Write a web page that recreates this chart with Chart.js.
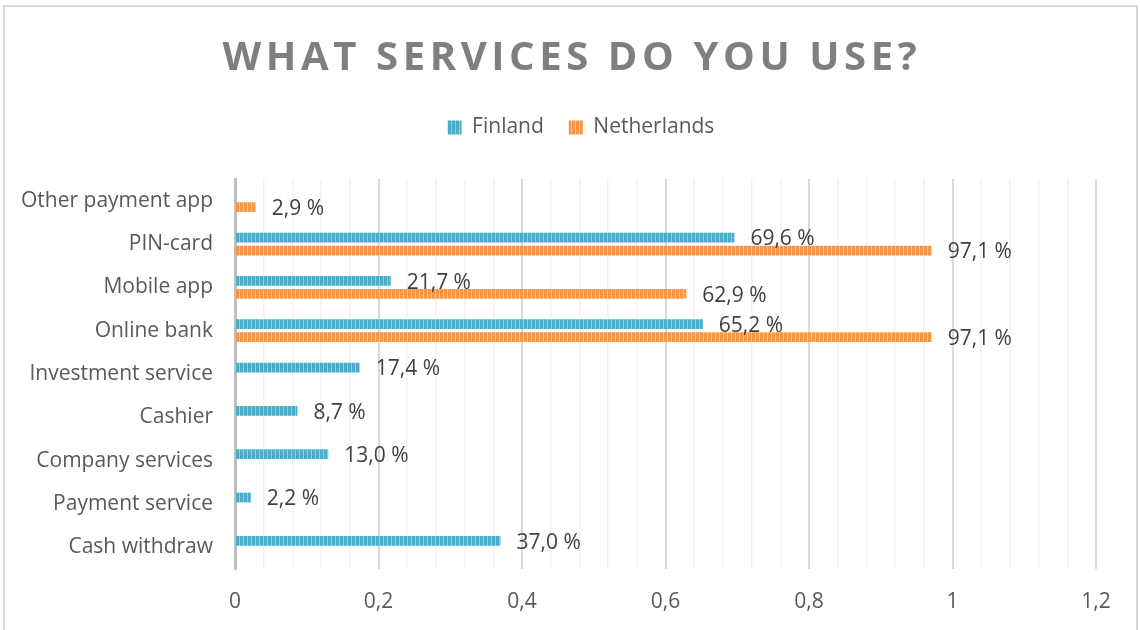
<!DOCTYPE html>
<html>
<head>
<meta charset="utf-8">
<script src="https://cdn.jsdelivr.net/npm/chart.js@4/dist/chart.umd.min.js"></script>
<style>
  html, body { margin: 0; padding: 0; background: #fff; }
  #wrap { position: relative; width: 1140px; height: 630px; overflow: hidden; }
  #frame { position: absolute; left: 3px; top: 5px; width: 1135px; height: 640px;
           border: 2px solid #d9d9d9; box-sizing: border-box; pointer-events: none; }
</style>
</head>
<body>
<div id="wrap">
  <canvas id="servicesChart" width="1140" height="630"></canvas>
  <div id="frame"></div>
</div>
<script>
const categories = [
  'Other payment app', 'PIN-card', 'Mobile app', 'Online bank',
  'Investment service', 'Cashier', 'Company services', 'Payment service', 'Cash withdraw'
];
const finland = [null, 0.696, 0.217, 0.652, 0.174, 0.087, 0.130, 0.022, 0.370];
const netherlands = [0.029, 0.971, 0.629, 0.971, null, null, null, null, null];
const xTickValues = [0, 0.2, 0.4, 0.6, 0.8, 1, 1.2];

const FONT = "'Open Sans', sans-serif";

// vertical stripe fill like the Office "dark vertical" pattern
function stripes(dark, light) {
  const c = document.createElement('canvas');
  c.width = 4; c.height = 4;
  const g = c.getContext('2d');
  g.fillStyle = dark;
  g.fillRect(0, 0, 4, 4);
  g.fillStyle = light;
  g.fillRect(3, 0, 1, 4);
  return g.createPattern(c, 'repeat');
}

const blueFill = stripes('#4aacc6', '#93cddd');
const orangeFill = stripes('#f79646', '#fbc08f');

const fmtPct = v => (v * 100).toFixed(1).replace('.', ',') + ' %';
const fmtTick = v => String(Math.round(v * 10) / 10).replace('.', ',');
const isMajor = v => Math.abs(v * 5 - Math.round(v * 5)) < 1e-6;

// value labels to the right of every bar
const barLabels = {
  id: 'barLabels',
  afterDatasetsDraw(chart) {
    const ctx = chart.ctx;
    ctx.save();
    ctx.font = '21px ' + FONT;
    ctx.fillStyle = '#404040';
    ctx.textAlign = 'left';
    ctx.textBaseline = 'middle';
    chart.data.datasets.forEach((ds, i) => {
      chart.getDatasetMeta(i).data.forEach((bar, j) => {
        const v = ds.data[j];
        if (v === null || v === undefined) return;
        ctx.fillText(fmtPct(v), bar.x + 16, bar.y + 2);
      });
    });
    ctx.restore();
  }
};

// spaced-out heading
const heading = {
  id: 'heading',
  afterDraw(chart) {
    const ctx = chart.ctx;
    ctx.save();
    ctx.font = 'bold 40px ' + FONT;
    ctx.letterSpacing = '4.6px';
    ctx.fillStyle = '#7f7f7f';
    ctx.textAlign = 'center';
    ctx.textBaseline = 'middle';
    ctx.fillText('WHAT SERVICES DO YOU USE?', 572, 59);
    ctx.restore();
  }
};

// extra room under the legend, and centre it over the plot
const legendTweak = {
  id: 'legendTweak',
  beforeInit(chart) {
    const fit = chart.legend.fit;
    chart.legend.fit = function () {
      fit.call(this);
      this.height += 31;
    };
  },
  afterLayout(chart) {
    chart.legend.left += 33;
    chart.legend.right += 33;
  }
};

new Chart(document.getElementById('servicesChart'), {
  type: 'bar',
  data: {
    labels: categories,
    datasets: [
      { label: 'Finland', data: finland, backgroundColor: blueFill, borderWidth: 0 },
      { label: 'Netherlands', data: netherlands, backgroundColor: orangeFill, borderWidth: 0 }
    ]
  },
  options: {
    indexAxis: 'y',
    responsive: false,
    animation: false,
    datasets: { bar: { categoryPercentage: 0.6, barPercentage: 0.75 } },
    layout: { padding: { top: 92, right: 44, left: 0, bottom: 0 } },
    plugins: {
      title: { display: false },
      tooltip: { enabled: false },
      legend: {
        position: 'top',
        labels: {
          boxWidth: 14, boxHeight: 14, padding: 25,
          color: '#595959',
          font: { family: FONT, size: 21 }
        }
      }
    },
    scales: {
      x: {
        min: 0, max: 1.2,
        afterBuildTicks(axis) {
          const t = [];
          for (let i = 0; i <= 30; i++) t.push({ value: i * 0.04 });
          axis.ticks = t;
        },
        afterFit(axis) { axis.height = 61; },
        border: { display: false },
        grid: {
          drawTicks: false,
          color: c => isMajor(c.tick.value) ? '#d9d9d9' : '#f2f2f2',
          lineWidth: c => isMajor(c.tick.value) ? 2 : 1.5
        },
        ticks: {
          autoSkip: false,
          maxRotation: 0,
          padding: 20,
          color: '#595959',
          font: { family: FONT, size: 21 },
          callback(v) {
            const hit = xTickValues.find(t => Math.abs(t - v) < 1e-6);
            return hit === undefined ? '' : fmtTick(hit);
          }
        }
      },
      y: {
        afterFit(axis) { axis.width = 235; },
        grid: { display: false },
        border: { display: true, color: '#bfbfbf', width: 3 },
        ticks: {
          padding: 14,
          color: '#595959',
          font: { family: FONT, size: 21 }
        }
      }
    }
  },
  plugins: [barLabels, heading, legendTweak]
});
</script>
</body>
</html>
